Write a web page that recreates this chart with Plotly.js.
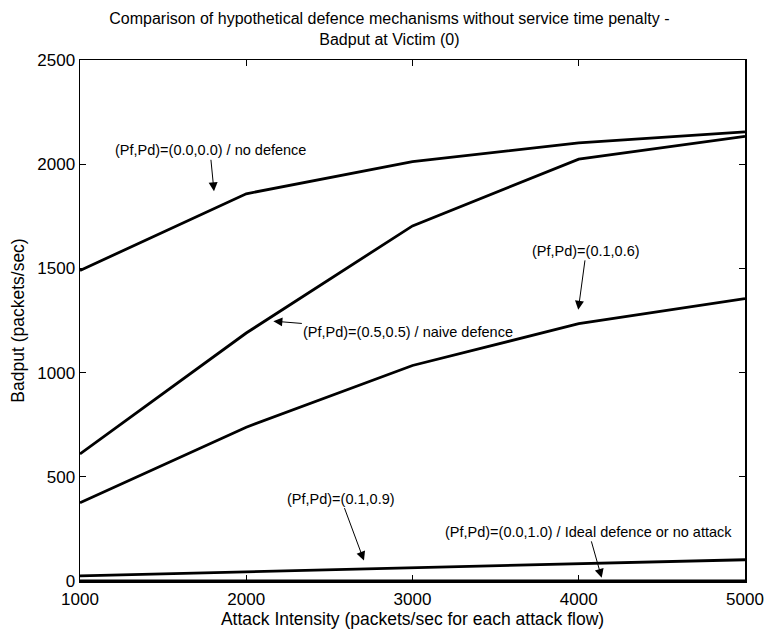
<!DOCTYPE html>
<html>
<head>
<meta charset="utf-8">
<script src="https://cdn.plot.ly/plotly-3.0.1.min.js"></script>
<style>html,body{margin:0;padding:0;background:#fff;}#chart{width:768px;height:630px;}</style>
</head>
<body>
<div id="chart"></div>
<script>
// Attack intensity (packets/sec for each attack flow)
const attackIntensity = [1000, 2000, 3000, 4000, 5000];
// Badput (packets/sec) per defence mechanism
const noDefence     = [1490, 1858, 2012, 2102, 2155];   // (Pf,Pd)=(0.0,0.0)
const naiveDefence  = [610, 1190, 1704, 2024, 2134];    // (Pf,Pd)=(0.5,0.5)
const pf01pd06      = [375, 738, 1034, 1235, 1355];     // (Pf,Pd)=(0.1,0.6)
const pf01pd09      = [25, 45, 63, 82, 102];            // (Pf,Pd)=(0.1,0.9)
const idealDefence  = [0, 0, 0, 0, 0];                  // (Pf,Pd)=(0.0,1.0)

const seriesNames = ['(Pf,Pd)=(0.0,0.0) / no defence', '(Pf,Pd)=(0.5,0.5) / naive defence',
                     '(Pf,Pd)=(0.1,0.6)', '(Pf,Pd)=(0.1,0.9)', '(Pf,Pd)=(0.0,1.0) / Ideal defence or no attack'];
const seriesValues = [noDefence, naiveDefence, pf01pd06, pf01pd09, idealDefence];

const xTicks = [1000, 2000, 3000, 4000, 5000];
const yTicks = [0, 500, 1000, 1500, 2000, 2500];

const FONT = '"Liberation Sans", Arial, Helvetica, sans-serif';

const traces = seriesValues.map((vals, i) => ({
  x: attackIntensity, y: vals, type: 'scatter', mode: 'lines', name: seriesNames[i],
  line: {color: '#000', width: 2.8}, cliponaxis: false, showlegend: false
}));

function ann(text, x, y, ax, ay) {
  return {text: text, x: x, y: y, xref: 'x', yref: 'y', ax: ax, ay: ay,
          showarrow: true, arrowhead: 2, arrowsize: 1.8, arrowwidth: 1, arrowcolor: '#000',
          font: {family: FONT, size: 14.5, color: '#000'}};
}

const layout = {
  width: 768, height: 630,
  paper_bgcolor: '#fff', plot_bgcolor: '#fff',
  margin: {l: 80, r: 23, t: 60, b: 49},
  font: {family: FONT, color: '#000'},
  title: {text: 'Comparison of hypothetical defence mechanisms without service time penalty -<br>Badput at Victim (0)',
          font: {family: FONT, size: 16, color: '#000'}, x: 0.507, xanchor: 'center', y: 0.962, yanchor: 'top'},
  xaxis: {range: [1000, 5000], tickvals: xTicks, ticktext: xTicks.map(String),
          showgrid: false, zeroline: false, showline: true, linecolor: '#000', linewidth: 1.5, mirror: 'ticks',
          ticks: 'inside', ticklen: 6, tickcolor: '#000', tickfont: {family: FONT, size: 17, color: '#000'},
          ticklabelstandoff: 2,
          title: {text: 'Attack Intensity (packets/sec for each attack flow)', font: {family: FONT, size: 17.5, color: '#000'}, standoff: 2}},
  yaxis: {range: [0, 2500], tickvals: yTicks, ticktext: yTicks.map(String),
          showgrid: false, zeroline: false, showline: true, linecolor: '#000', linewidth: 1.5, mirror: 'ticks',
          ticks: 'inside', ticklen: 6, tickcolor: '#000', tickfont: {family: FONT, size: 17, color: '#000'},
          title: {text: 'Badput (packets/sec)', font: {family: FONT, size: 17.5, color: '#000'}, standoff: 8}},
  annotations: [
    ann(seriesNames[0], 1806, 1870, -4, -41),
    ann(seriesNames[1], 2163, 1247, 135, 11),
    ann(seriesNames[2], 3997, 1301, 8, -59),
    ann(seriesNames[3], 2708, 98, -23, -62),
    ann(seriesNames[4], 4138, 15, -13, -46)
  ]
};

Plotly.newPlot('chart', traces, layout, {staticPlot: true, displayModeBar: false});
</script>
</body>
</html>
